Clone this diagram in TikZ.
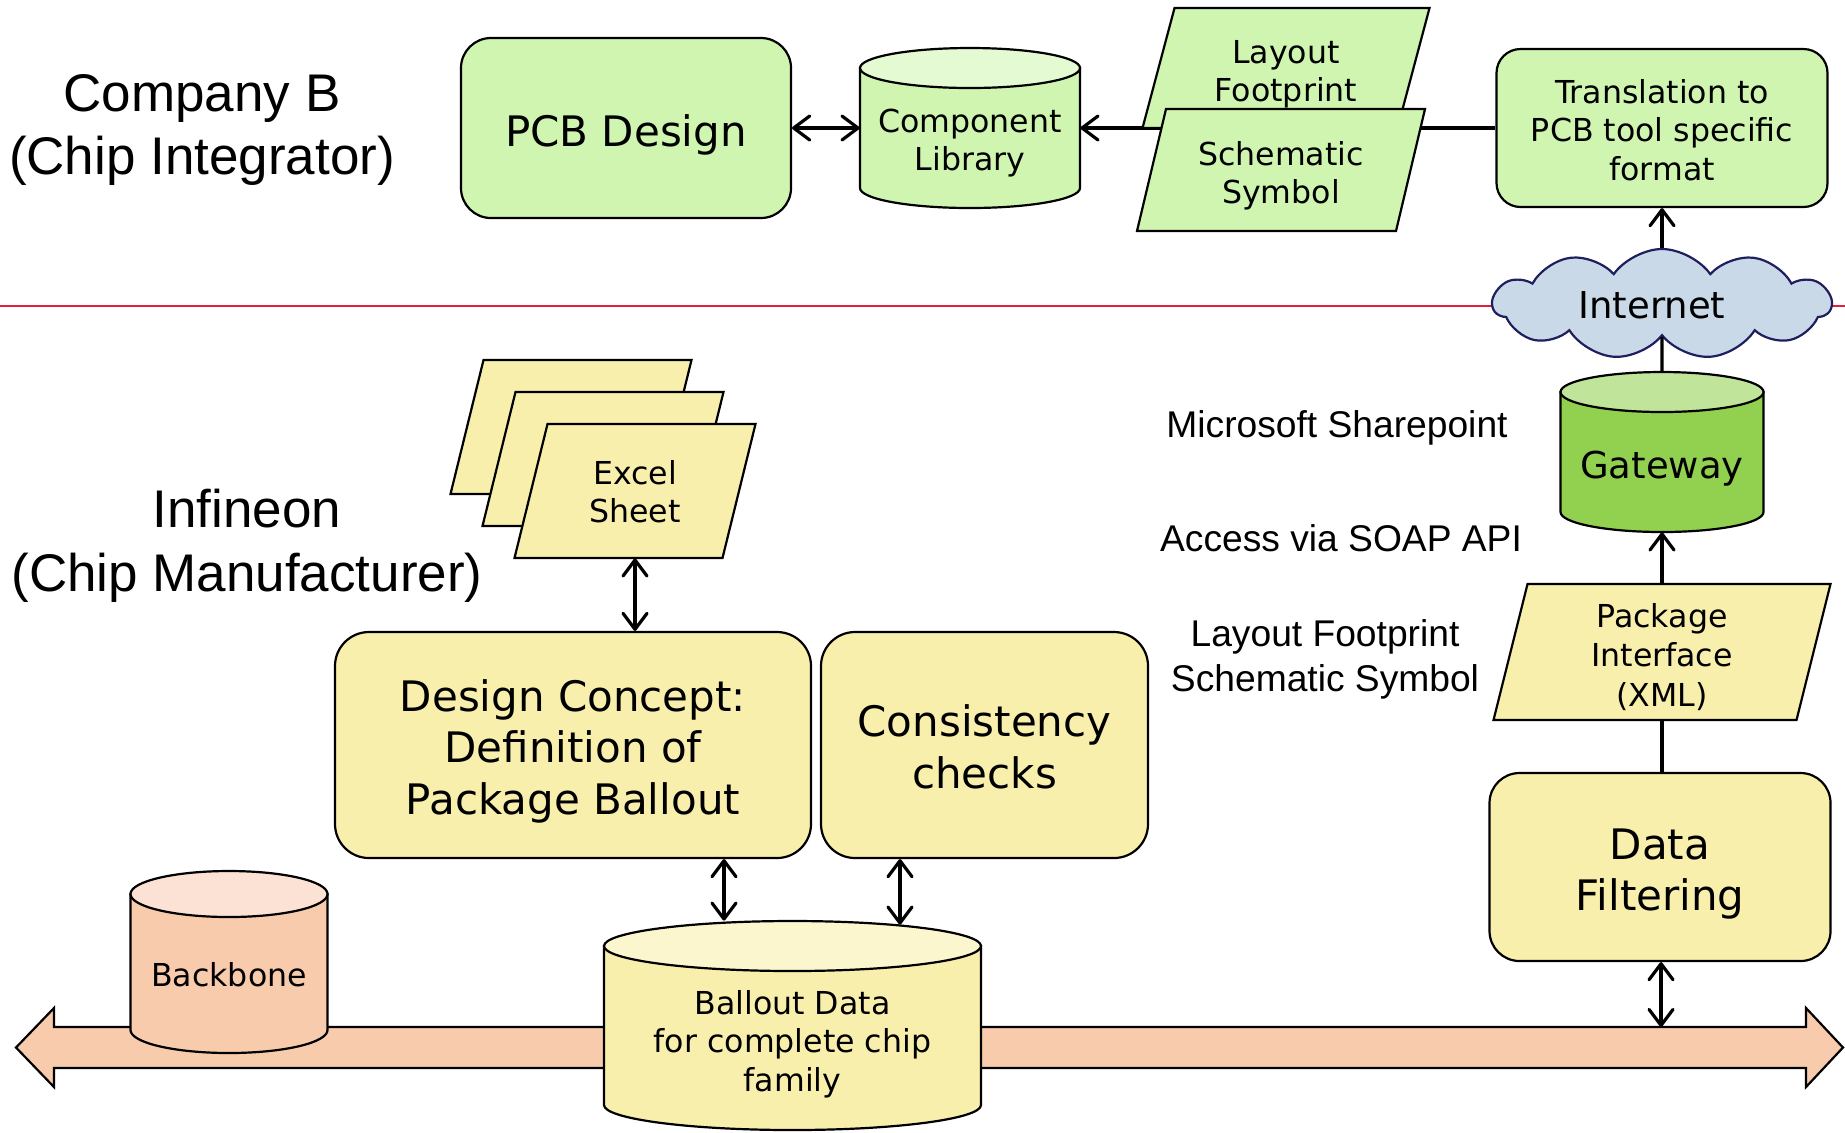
\documentclass[tikz,border=0pt]{standalone}
\usepackage{fontspec}
\setmainfont{DejaVu Sans}
\newfontfamily\arialf{Liberation Sans}
\usetikzlibrary{shapes.symbols,arrows.meta,calc}
\definecolor{pgreen}{HTML}{CFF5B0}
\definecolor{pgreentop}{HTML}{E3FAD3}
\definecolor{ggreen}{HTML}{92D050}
\definecolor{ggreentop}{HTML}{C0E49A}
\definecolor{pyellow}{HTML}{F9EFAC}
\definecolor{pyellowtop}{HTML}{FCF6CF}
\definecolor{ppeach}{HTML}{F8CBAD}
\definecolor{ppeachtop}{HTML}{FBE2D5}
\definecolor{cloudfill}{HTML}{C9D9E8}
\definecolor{cloudline}{HTML}{1F1F5F}
\definecolor{redline}{HTML}{E0203C}
\tikzset{
  boxline/.style={draw=black, line width=1.1pt},
  rbox/.style={boxline, inner sep=0pt},
  txt/.style={inner sep=0pt, align=center},
  fs/.style={font=\fontsize{15.8}{19.2}\selectfont},
  fm/.style={font=\fontsize{18.5}{22}\selectfont},
  fl/.style={font=\fontsize{21}{25.8}\selectfont},
  lbl/.style={font=\arialf\fontsize{18.6}{22.4}\selectfont, align=center, inner sep=0pt},
  ttl/.style={font=\arialf\fontsize{26.5}{31.8}\selectfont, align=center, inner sep=0pt},
  conn/.style={line width=1.6pt},
}
\newcommand\cylshape[8]{%
  \pgfmathsetmacro\cL{#2-#4/2}%
  \pgfmathsetmacro\cR{#2+#4/2}%
  \pgfmathsetmacro\cT{#3-#5/2+#6}%
  \pgfmathsetmacro\cB{#3+#5/2-#6}%
  \pgfmathsetmacro\cRX{#4/2}%
  \pgfmathsetmacro\cW{#4/2}%
  \pgfmathsetmacro\cH{#5/2}%
  \filldraw[boxline, fill=#7] (\cL,\cT) -- (\cL,\cB) arc[start angle=180, end angle=0, x radius=\cRX, y radius=#6] -- (\cR,\cT) -- cycle;
  \filldraw[boxline, fill=#8] (#2,\cT) ellipse[x radius=\cRX, y radius=#6];
  \node[minimum width=\cW pt, minimum height=\cH pt, inner sep=0pt] (#1) at (#2,#3) {};
}
\newcommand\parashape[6]{%
  \pgfmathsetmacro\pTL{#1-#3/2+#5/2}%
  \pgfmathsetmacro\pTR{#1+#3/2+#5/2}%
  \pgfmathsetmacro\pBR{#1+#3/2-#5/2}%
  \pgfmathsetmacro\pBL{#1-#3/2-#5/2}%
  \pgfmathsetmacro\pT{#2-#4/2}%
  \pgfmathsetmacro\pB{#2+#4/2}%
  \filldraw[boxline, fill=#6] (\pTL,\pT) -- (\pTR,\pT) -- (\pBR,\pB) -- (\pBL,\pB) -- cycle;
}
\begin{document}
\begin{tikzpicture}[x=0.5pt, y=-0.5pt, >={Straight Barb[length=8pt,width=12pt,round]}]
\useasboundingbox (0,0) rectangle (1845,1132);

% separator
\draw[redline, line width=0.8pt] (0,306) -- (1845,306);

% backbone bus
\filldraw[boxline, fill=ppeach] (16,1047.5) -- (54,1008) -- (54,1027) -- (1806,1027) -- (1806,1008) -- (1843,1047.5) -- (1806,1087) -- (1806,1068) -- (54,1068) -- (54,1087) -- cycle;
\coordinate (busf) at (1661,1027);

% Company B side
\node[rbox, rounded corners=15pt, fill=pgreen, minimum width=165pt, minimum height=90pt] (pcb) at (626,128) {};
\node[txt, fl] (pcbt) at (626,135) {PCB Design};
\cylshape{complib}{970}{128}{220}{160}{20}{pgreen}{pgreentop}
\node[txt, fs] (complibt) at (970,143) {Component\\Library};
\node[rbox, rounded corners=12pt, fill=pgreen, minimum width=165.5pt, minimum height=79pt] (trans) at (1662,128) {};
\node[txt, fs] (transt) at (1662,130) {Translation to\\PCB tool specific\\format};

\draw[conn, ->] (trans.west) -- (complib.east);

\parashape{1286}{68}{255}{120}{32}{pgreen}
\node[txt, fs] (layout) at (1286,74) {Layout\\Footprint};
\parashape{1281}{170}{259}{122}{29}{pgreen}
\node[txt, fs] (schem) at (1281,176) {Schematic\\Symbol};

\draw[conn, <->] (pcb.east) -- (complib.west);

% right column
\node[cloud, cloud puffs=11, cloud puff arc=110, aspect=3.1, draw=cloudline, line width=1.1pt, fill=cloudfill, minimum width=169pt, minimum height=55pt, inner sep=0pt] (inet) at (1662,304) {};
\node[txt, fm] (inett) at (1652,305) {Internet};
\cylshape{gateway}{1662}{452}{203}{160}{20}{ggreen}{ggreentop}
\node[txt, fm] (gatewayt) at (1662,469) {Gateway};
\parashape{1662}{652}{303}{136}{34}{pyellow}
\node[txt, font=\fontsize{15.8}{19.6}\selectfont, minimum width=130pt, minimum height=68pt] (pkg) at (1662,652) {};
\node[txt, font=\fontsize{15.8}{19.6}\selectfont] (pkgt) at (1662,657) {Package\\Interface\\(XML)};
\node[rbox, rounded corners=15pt, fill=pyellow, minimum width=170.5pt, minimum height=94pt] (dataf) at (1660,867) {};
\node[txt, fl] (datat) at (1660,874) {Data\\Filtering};

\draw[conn, ->] (inet.north) -- (trans.south);
\draw[conn] (gateway.north) -- (inet.south);
\draw[conn, ->] (pkg.north) -- (gateway.south);
\draw[conn] (pkg.south) -- (pkg.south |- dataf.north);
\draw[conn, <->] (dataf.south -| busf) -- (busf);

% Infineon side
\parashape{571}{427}{208}{134}{33}{pyellow}
\parashape{603}{459}{208}{134}{33}{pyellow}
\parashape{635}{491}{208}{134}{33}{pyellow}
\node[txt, minimum width=90pt, minimum height=67pt] (excel) at (635,491) {};
\node[txt, fs] (excelt) at (635,492) {Excel\\Sheet};

\node[rbox, rounded corners=17pt, fill=pyellow, minimum width=238pt, minimum height=113pt] (design) at (573,745) {};
\node[txt, fl] (designt) at (573,751) {Design Concept:\\Definition of\\Package Ballout};
\node[rbox, rounded corners=17pt, fill=pyellow, minimum width=163.5pt, minimum height=113pt] (cons) at (984.5,745) {};
\node[txt, fl] (const) at (984.5,747) {Consistency\\checks};

\cylshape{backbone}{229}{962}{197}{182}{23}{ppeach}{ppeachtop}
\node[txt, fs] (backbonet) at (229,975) {Backbone};
\cylshape{ballout}{792.5}{1025.5}{377}{209}{25}{pyellow}{pyellowtop}
\node[txt, fs] (ballt) at (792.5,1044) {Ballout Data\\for complete chip\\family};

\draw[conn, <->] (excel.south) -- (excel.south |- design.north);
\draw[conn, <->] ([xshift=75.5pt]design.south) -- ([xshift=75.5pt]design.south |- ballout.north);
\draw[conn, <->] ([xshift=-42.25pt]cons.south) -- ([xshift=-42.25pt, yshift=-2pt]cons.south |- ballout.north);

% labels
\node[ttl] (compb) at (202,130) {Company B\\(Chip Integrator)};
\node[ttl] (infin) at (247,546) {Infineon\\(Chip Manufacturer)};
\node[lbl] (sharep) at (1337,428) {Microsoft Sharepoint};
\node[lbl] (soap) at (1341,538) {Access via SOAP API};
\node[lbl] (lfss) at (1325,659) {Layout Footprint\\Schematic Symbol};
\end{tikzpicture}
\end{document}
